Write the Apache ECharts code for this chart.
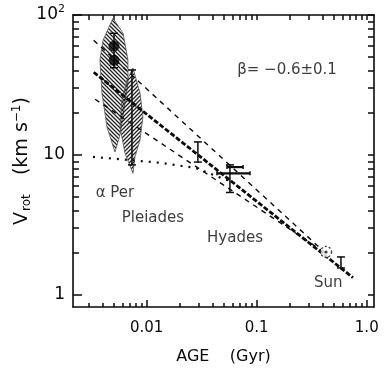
<!DOCTYPE html>
<html>
<head>
<meta charset="utf-8">
<script src="https://cdn.jsdelivr.net/npm/echarts@6.0.0/dist/echarts.min.js"></script>
<style>
  html, body { margin: 0; padding: 0; background: #fff; }
  #chart { width: 386px; height: 370px; }
</style>
</head>
<body>
<div id="chart"></div>
<script>
// axis ranges and ticks (age in Gyr, v_rot in km/s)
var xMin = 0.00214, xMax = 1.164;
var yMin = 0.821, yMax = 100;
var xMajor = [0.01, 0.1, 1];
var xMajorText = ['0.01', '0.1', '1.0'];
var xMinor = [0.003, 0.004, 0.005, 0.006, 0.007, 0.008, 0.009,
  0.02, 0.03, 0.04, 0.05, 0.06, 0.07, 0.08, 0.09,
  0.2, 0.3, 0.4, 0.5, 0.6, 0.7, 0.8, 0.9];
var yMajor = [1, 10, 100];
var yMinor = [2, 3, 4, 5, 6, 7, 8, 9, 20, 30, 40, 50, 60, 70, 80, 90];

// power law fit (beta = -0.6) and the two bounding fits
var fitAge = [0.0033, 0.75];
var fitV = [39, 1.33];
var upperAge = [0.0033, 0.42];
var upperV = [66, 2.0];
var lowerAge = [0.0034, 0.42];
var lowerV = [25, 2.0];
// dotted curve starting at ~10 km/s
var dotAge = [0.00325, 0.00705, 0.0132, 0.0275, 0.0445, 0.061];
var dotV = [9.7, 9.2, 8.8, 8.1, 7.0, 6.4];

// hatched spreads of the young clusters
var alphaPerAge = [0.00495, 0.0061, 0.00676, 0.00676, 0.00622, 0.00572, 0.00515, 0.00436, 0.00392, 0.00376, 0.00401];
var alphaPerV = [95, 74, 47.7, 32.7, 21, 13.9, 10.5, 15.8, 27.7, 47.7, 66];
var pleiadesAge = [0.0075, 0.0087, 0.00925, 0.0087, 0.00783, 0.0075, 0.00635, 0.00572, 0.00595, 0.00662];
var pleiadesV = [41.8, 27.7, 18.7, 12.8, 9.7, 7.4, 10.3, 15.8, 24.7, 34.3];

// filled points
var dotPtAge = [0.00505, 0.00505];
var dotPtV = [60, 47.5];

// vertical error bars
var errAge = [0.00505, 0.00735, 0.0292, 0.0571, 0.583];
var errLo = [42, 8.5, 8.9, 5.4, 1.56];
var errHi = [74, 40.5, 12.4, 8.5, 1.87];
// horizontal error bars (Hyades)
var hErrV = [7.4, 8.2];
var hErrLo = [0.0435, 0.0537];
var hErrHi = [0.0869, 0.0752];

// Sun
var sunAge = [0.427];
var sunV = [2.03];

// text labels
var noteText = ['\u03b2= \u22120.6\u00b10.1', '\u03b1 Per', 'Pleiades', 'Hyades', 'Sun'];
var noteAge = [0.1886, 0.00515, 0.0114, 0.0635, 0.446];
var noteV = [40.5, 5.35, 3.55, 2.55, 1.22];

var ink = '#0a0a0a';
var font = 'DejaVu Sans';

function pairs(xs, ys) {
  return xs.map(function (x, i) { return [x, ys[i]]; });
}

function hatch(dir) {
  var c = document.createElement('canvas');
  c.width = 4; c.height = 4;
  var g = c.getContext('2d');
  g.strokeStyle = '#222';
  g.lineWidth = 1.3;
  g.beginPath();
  if (dir > 0) {
    g.moveTo(-1, -1); g.lineTo(5, 5);
    g.moveTo(-1, 3); g.lineTo(1, 5);
    g.moveTo(3, -1); g.lineTo(5, 1);
  } else {
    g.moveTo(-1, 5); g.lineTo(5, -1);
    g.moveTo(-1, 1); g.lineTo(1, -1);
    g.moveTo(3, 5); g.lineTo(5, 3);
  }
  g.stroke();
  return c;
}

function shapeSeries(ages, vs, dir) {
  var img = hatch(dir);
  return {
    type: 'custom',
    z: 1,
    silent: true,
    data: [[ages[0], vs[0]]],
    renderItem: function (params, api) {
      var pts = ages.map(function (a, i) { return api.coord([a, vs[i]]); });
      return {
        type: 'polygon',
        shape: { points: pts },
        style: { fill: { image: img, repeat: 'repeat' }, stroke: '#555', lineWidth: 0.8 }
      };
    }
  };
}

function lineSeries(xs, ys, width, dash) {
  return {
    type: 'line',
    z: 3,
    data: pairs(xs, ys),
    symbol: 'none',
    lineStyle: { color: ink, width: width, type: dash }
  };
}

var capStyle = { stroke: ink, lineWidth: 1.5 };
var tickStyle = { color: ink, width: 1.5 };

var myChart = echarts.init(document.getElementById('chart'));
myChart.setOption({
  animation: false,
  backgroundColor: '#fff',
  grid: { left: 73, right: 12, top: 15, bottom: 63, containLabel: false, outerBoundsMode: 'none' },
  xAxis: [
    {
      type: 'log', position: 'bottom', min: xMin, max: xMax,
      splitLine: { show: false },
      axisLine: { show: true, lineStyle: { color: ink, width: 1.6 } },
      axisTick: { inside: true, length: 7, customValues: xMajor, lineStyle: tickStyle },
      axisLabel: {
        customValues: xMajor, margin: 14, color: ink, fontSize: 15, fontFamily: font,
        formatter: function (v) {
          for (var i = 0; i < xMajor.length; i++) {
            if (Math.abs(v / xMajor[i] - 1) < 1e-6) return xMajorText[i];
          }
          return '';
        }
      },
      name: 'AGE    (Gyr)', nameLocation: 'middle', nameGap: 42,
      nameTextStyle: { color: ink, fontSize: 16, fontFamily: font }
    },
    {
      type: 'log', position: 'bottom', min: xMin, max: xMax,
      splitLine: { show: false }, axisLine: { show: false }, axisLabel: { show: false },
      axisTick: { inside: true, length: 4, customValues: xMinor, lineStyle: tickStyle }
    },
    {
      type: 'log', position: 'top', min: xMin, max: xMax,
      splitLine: { show: false }, axisLabel: { show: false },
      axisLine: { show: true, lineStyle: { color: ink, width: 1.6 } },
      axisTick: { inside: true, length: 5, customValues: xMinor.concat(xMajor), lineStyle: tickStyle }
    }
  ],
  yAxis: [
    {
      type: 'log', position: 'left', min: yMin, max: yMax,
      splitLine: { show: false },
      axisLine: { show: true, lineStyle: { color: ink, width: 1.6 } },
      axisTick: { inside: true, length: 9, customValues: yMajor, lineStyle: tickStyle },
      axisLabel: {
        customValues: yMajor, margin: 8, color: ink, fontSize: 17, fontFamily: font,
        formatter: function (v) {
          if (v > 50) return '{b|10}{p|2}';
          if (v > 5) return '10';
          return '1';
        },
        rich: {
          b: { fontSize: 17, lineHeight: 22, color: ink, fontFamily: font },
          p: { fontSize: 11, verticalAlign: 'top', color: ink, fontFamily: font }
        }
      },
      name: '{v|V}{s|rot}{t|   (km s}{u|\u22121}{t|)}',
      nameLocation: 'middle', nameGap: 40, nameRotate: 90, nameMoveOverlap: false,
      nameTextStyle: {
        color: ink, fontFamily: font,
        rich: {
          v: { fontSize: 19, color: ink, fontFamily: font },
          s: { fontSize: 12, verticalAlign: 'top', padding: [10, 1, 0, 1], color: ink, fontFamily: font },
          t: { fontSize: 19, color: ink, fontFamily: font },
          u: { fontSize: 12, verticalAlign: 'top', color: ink, fontFamily: font }
        }
      }
    },
    {
      type: 'log', position: 'left', min: yMin, max: yMax,
      splitLine: { show: false }, axisLine: { show: false }, axisLabel: { show: false },
      axisTick: { inside: true, length: 6, customValues: yMinor, lineStyle: tickStyle }
    },
    {
      type: 'log', position: 'right', min: yMin, max: yMax,
      splitLine: { show: false }, axisLabel: { show: false },
      axisLine: { show: true, lineStyle: { color: ink, width: 1.6 } },
      axisTick: { inside: true, length: 6, customValues: yMinor.concat(yMajor), lineStyle: tickStyle }
    }
  ],
  series: [
    shapeSeries(alphaPerAge, alphaPerV, 1),
    shapeSeries(pleiadesAge, pleiadesV, -1),
    lineSeries(upperAge, upperV, 1.4, [5, 5]),
    lineSeries(lowerAge, lowerV, 1.4, [5, 5]),
    lineSeries(dotAge, dotV, 2.2, [2, 6]),
    lineSeries(fitAge, fitV, 2.8, [5, 2]),
    {
      type: 'custom', z: 4,
      data: errAge.map(function (a, i) { return [a, errLo[i], errHi[i]]; }),
      encode: { x: 0, y: [1, 2] },
      renderItem: function (params, api) {
        var lo = api.coord([api.value(0), api.value(1)]);
        var hi = api.coord([api.value(0), api.value(2)]);
        var w = 4;
        return {
          type: 'group',
          children: [
            { type: 'line', shape: { x1: lo[0], y1: lo[1], x2: hi[0], y2: hi[1] }, style: capStyle },
            { type: 'line', shape: { x1: lo[0] - w, y1: lo[1], x2: lo[0] + w, y2: lo[1] }, style: capStyle },
            { type: 'line', shape: { x1: hi[0] - w, y1: hi[1], x2: hi[0] + w, y2: hi[1] }, style: capStyle }
          ]
        };
      }
    },
    {
      type: 'custom', z: 4,
      data: hErrV.map(function (v, i) { return [hErrLo[i], hErrHi[i], v]; }),
      encode: { x: [0, 1], y: 2 },
      renderItem: function (params, api) {
        var lo = api.coord([api.value(0), api.value(2)]);
        var hi = api.coord([api.value(1), api.value(2)]);
        var h = 2;
        return {
          type: 'group',
          children: [
            { type: 'line', shape: { x1: lo[0], y1: lo[1], x2: hi[0], y2: hi[1] }, style: { stroke: ink, lineWidth: 2.2 } },
            { type: 'line', shape: { x1: lo[0], y1: lo[1] - h, x2: lo[0], y2: lo[1] + h }, style: capStyle },
            { type: 'line', shape: { x1: hi[0], y1: hi[1] - h, x2: hi[0], y2: hi[1] + h }, style: capStyle }
          ]
        };
      }
    },
    {
      type: 'scatter', z: 5,
      data: pairs(dotPtAge, dotPtV),
      symbol: 'circle', symbolSize: 11,
      itemStyle: { color: '#000' }
    },
    {
      type: 'scatter', z: 5,
      data: pairs(sunAge, sunV),
      symbol: 'circle', symbolSize: 11,
      itemStyle: { color: '#fff', borderColor: ink, borderWidth: 1.3, borderType: [2, 2] }
    },
    {
      type: 'scatter', z: 6,
      data: pairs(sunAge, sunV),
      symbol: 'circle', symbolSize: 3,
      itemStyle: { color: ink }
    },
    {
      type: 'scatter', z: 7, silent: true,
      data: noteText.map(function (t, i) { return { value: [noteAge[i], noteV[i]], name: t }; }),
      symbol: 'circle', symbolSize: 1,
      itemStyle: { color: 'rgba(0,0,0,0)' },
      label: {
        show: true, position: 'inside', formatter: '{b}',
        color: ink, fontSize: 15, fontFamily: font
      }
    }
  ]
});
</script>
</body>
</html>
